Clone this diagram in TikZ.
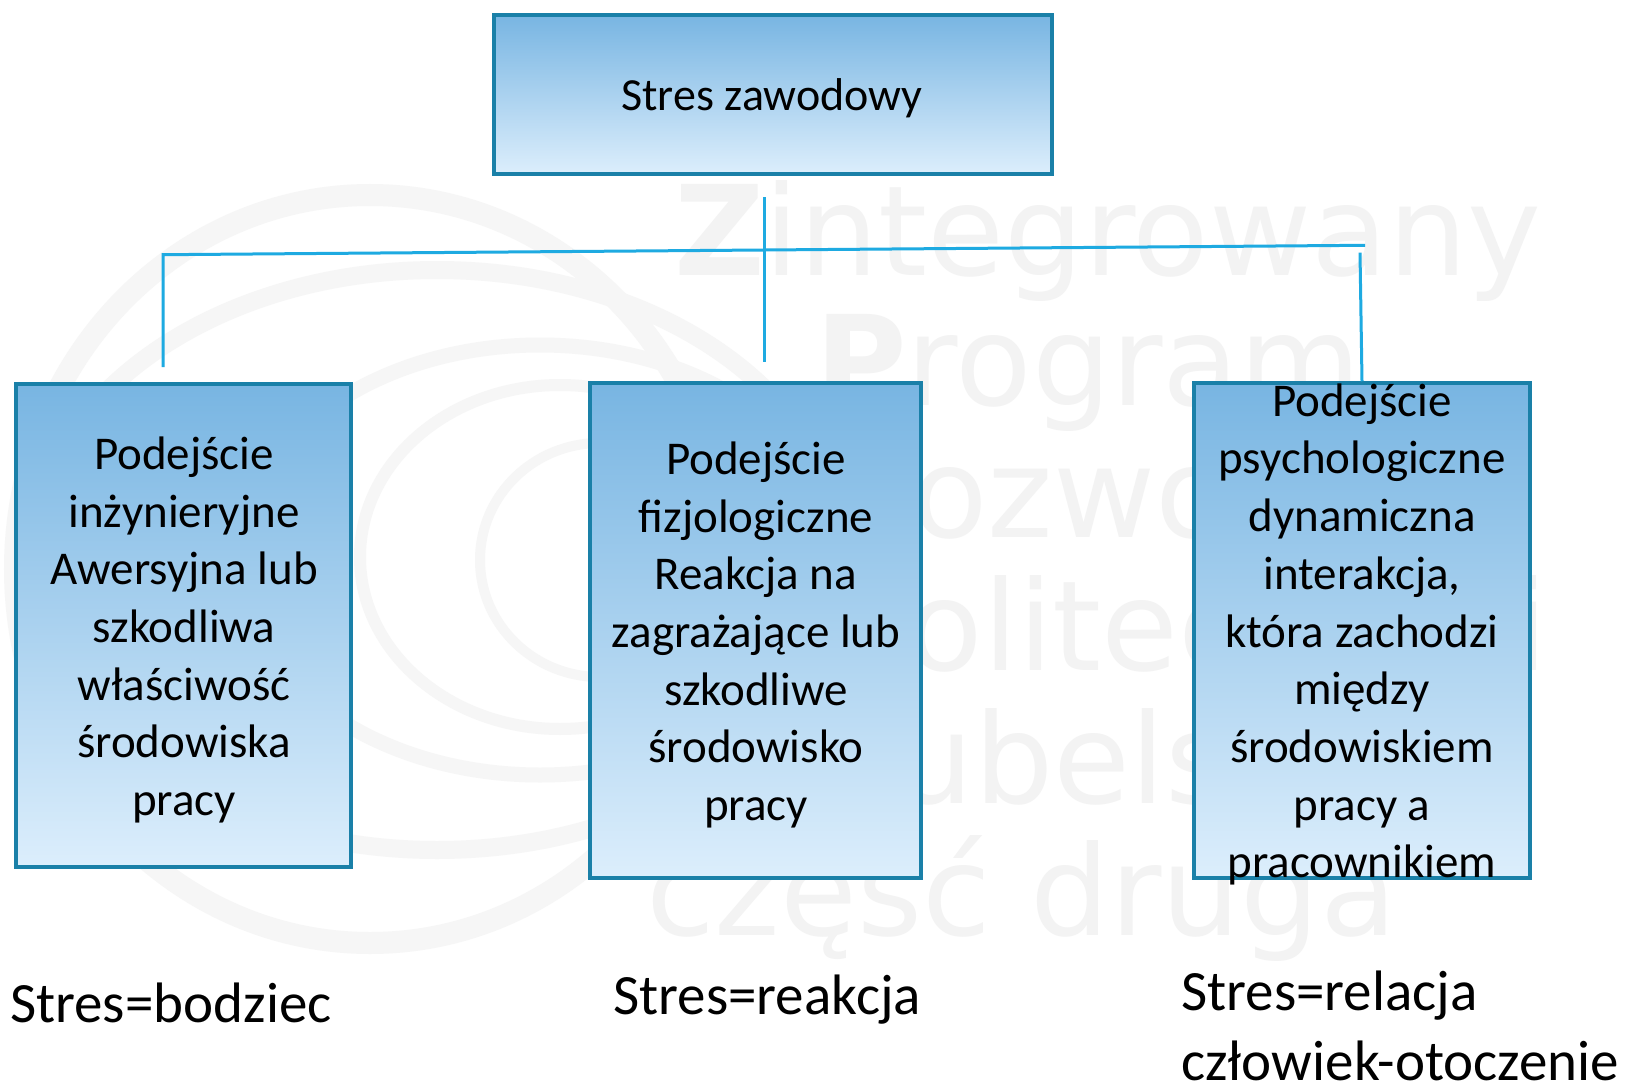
\documentclass[tikz,border=0pt]{standalone}
\usepackage{fontspec}
\setmainfont{Carlito}
\newfontfamily\wmfont{DejaVu Sans}
\definecolor{boxedge}{RGB}{26,128,168}
\definecolor{linkblue}{RGB}{30,170,225}
\definecolor{shadetop}{RGB}{120,181,226}
\definecolor{shademid}{RGB}{180,222,250}
\definecolor{shadebot}{RGB}{220,238,252}
\definecolor{wmgray}{RGB}{243,243,243}
\definecolor{ringgray}{RGB}{246,246,246}
\begin{document}
\begin{tikzpicture}[x=1pt,y=-1pt]
\tikzset{
  box/.style={draw=boxedge, line width=3.5pt, top color=shadetop,
    middle color=shademid, bottom color=shadebot, inner sep=0pt},
  link/.style={draw=linkblue, line width=3pt},
  boxtext/.style={align=center, inner sep=0pt,
    font=\fontsize{47}{57.7}\selectfont},
  caption/.style={anchor=base west, inner sep=0pt, align=left,
    font=\fontsize{57}{69.5}\selectfont},
  wmtext/.style={anchor=base west, inner sep=0pt, text=wmgray,
    font=\wmfont\fontsize{125}{130}\selectfont},
  wmring/.style={draw=ringgray}
}
% page
\fill[white] (0,0) rectangle (1630,1086);
\useasboundingbox (0,0) rectangle (1630,1086);

% background emblem: nested orbits
\draw[wmring, line width=22pt] (370,569) ellipse[x radius=355, y radius=374];
\draw[wmring, line width=18pt] (437,560) ellipse[x radius=406, y radius=290];
\draw[wmring, line width=15pt] (540,560) ellipse[x radius=300, y radius=215];
\draw[wmring, line width=12pt] (560,557) ellipse[x radius=200, y radius=172];
\draw[wmring, line width=10pt] (600,560) ellipse[x radius=120, y radius=117];

% background lettering
\node[wmtext] (wm1) at (674,275) {\textbf{Z}integrowany};
\node[wmtext] (wm2) at (815,405) {\textbf{P}rogram};
\node[wmtext] (wm3) at (815,537) {\textbf{R}ozwoju};
\node[wmtext] (wm4) at (815,670) {\textbf{P}olitechniki};
\node[wmtext] (wm5) at (815,803) {\textbf{L}ubelskiej};
\node[wmtext] (wm6) at (646,935) {część druga};

% boxes
\node[box, minimum width=558pt, minimum height=159pt] (root) at (773,94.5) {};
\node[font=\fontsize{46}{56}\selectfont, anchor=base, inner sep=0pt] (roottext) at (772,111) {Stres zawodowy};

\node[box, minimum width=335pt, minimum height=483pt] (eng) at (183.5,625.5) {};
\node[box, minimum width=331pt, minimum height=495pt] (phys) at (755.5,630.5) {};
\node[box, minimum width=336pt, minimum height=495pt] (psy) at (1362,630.5) {};

\node[boxtext] (engtext) at (184,630) {Podejście\\inżynieryjne\\Awersyjna lub\\szkodliwa\\właściwość\\środowiska\\pracy};
\node[boxtext] (phystext) at (756,635) {Podejście\\fizjologiczne\\Reakcja na\\zagrażające lub\\szkodliwe\\środowisko\\pracy};
\node[boxtext] (psytext) at (1362,634.5) {Podejście\\psychologiczne\\dynamiczna\\interakcja,\\która zachodzi\\między\\środowiskiem\\pracy a\\pracownikiem};

% connectors
\coordinate (stemtop) at (764,197.5);
\coordinate (stembot) at (764,362);
\coordinate (barL) at (163,254.7);
\coordinate (barR) at (1365,245.3);
\coordinate (legL) at (163,367);
\coordinate (legR) at (1360,252.6);
\draw[link] (stemtop) -- (stembot);
\draw[link] (legL) -- (barL) -- (barR);
\draw[link] (legR) -- (psy.north);

% captions
\node[caption] (cap1) at (10,1022) {Stres=bodziec};
\node[caption] (cap2) at (613,1014.6) {Stres=reakcja};
\node[caption] (cap3) at (1181,1080) {Stres=relacja\\człowiek-otoczenie};
\end{tikzpicture}
\end{document}
